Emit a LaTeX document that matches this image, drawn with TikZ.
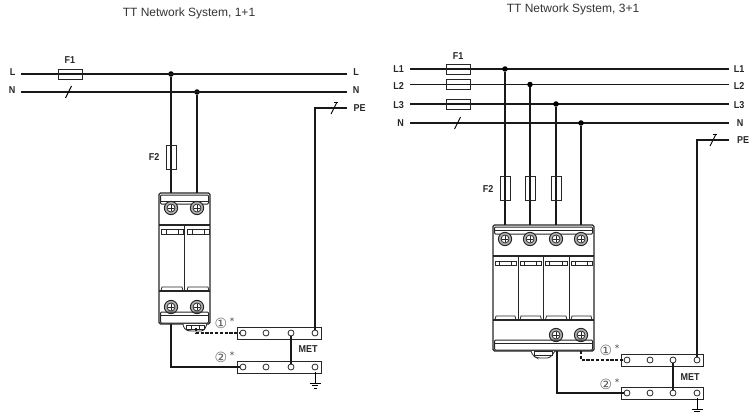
\documentclass[tikz,border=0pt]{standalone}
\usepackage{fontspec}
\setmainfont{Liberation Sans}
\newfontfamily\symf{DejaVu Sans}
\newfontfamily\lblf[FakeStretch=0.9]{Liberation Sans}
\tikzset{x=1pt,y=-1pt,
 wire/.style={line width=1.6pt,draw=black!90},
 thin box/.style={draw=black!85,line width=0.9pt},
 lbl/.style={font=\lblf\bfseries\fontsize{10}{10}\selectfont,inner sep=0pt,text=black!85},
 star/.style={font=\symf\fontsize{9}{9}\selectfont,inner sep=0pt,text=black!75},
 ttl/.style={font=\fontsize{12}{13}\selectfont,inner sep=0pt,text=black!80},
 fuse/.style={draw=black!85,line width=0.9pt,fill=none,inner sep=0pt},
 dot/.style={circle,fill=black,inner sep=0pt,minimum size=5.5pt},
 hole/.style={circle,draw=black!85,fill=white,line width=0.8pt,inner sep=0pt,minimum size=6pt},
 circ/.style={font=\symf\fontsize{14}{14}\selectfont,inner sep=0pt,text=black!65},
 devline/.style={draw=black!85,line width=0.8pt}
}
\newcommand{\screw}[2]{%
 \draw[devline,line width=1pt,fill=black!30] (#1,#2) circle (6.6);
 \draw[devline,fill=white] (#1,#2) circle (4);
 \draw[devline,line width=1pt] (#1-3.4,#2) -- (#1+3.4,#2) (#1,#2-3.4) -- (#1,#2+3.4);}
\newcommand{\fuseh}[3]{\draw[fuse] (#1-12,#2-#3) rectangle (#1+12,#2+#3);}
\newcommand{\slashmark}[2]{\draw[line width=0.9pt] (#1-3,#2+6) -- (#1+3,#2-6);}
\newcommand{\earth}[2]{%
 \draw[line width=0.8pt] (#1,#2) -- (#1,#2+11);
 \draw[line width=0.8pt] (#1-5.5,#2+11) -- (#1+5.5,#2+11) (#1-3.4,#2+13.5) -- (#1+3.4,#2+13.5) (#1-1.5,#2+16) -- (#1+1.5,#2+16);}
\begin{document}
\begin{tikzpicture}
\useasboundingbox (0,0) rectangle (751,414);
% ---------- LEFT
\node[ttl] (t1) at (189,13) {TT Network System, 1+1};
\node[lbl] (lL) at (12.5,72.5) {L};
\node[lbl] (lN) at (12,90.5) {N};
\node[lbl] (rL) at (356,72.5) {L};
\node[lbl] (rN) at (356,90.5) {N};
\node[lbl] (rPE) at (359.5,108) {PE};
\node[lbl] (f1) at (70,60) {F1};
\node[lbl] (f2) at (154,157) {F2};
\coordinate (La) at (21,74); \coordinate (Lb) at (347,74);
\coordinate (Na) at (21,92); \coordinate (Nb) at (347,92);
\coordinate (PEa) at (347,108);
\node[dot] (j1) at (171,74) {};
\node[dot] (j2) at (197,92) {};
\draw[wire] (La) -- (Lb);
\draw[wire] (Na) -- (Nb);
\fuseh{70}{74}{5}
\slashmark{68.5}{92}
\slashmark{334}{108}
\draw[line width=0.9pt] (334,102) -- (338,102);
% device
\draw[devline,line width=1.1pt,rounded corners=1.5pt,fill=white] (159,193) rectangle (210,324);
\coordinate (d1a) at (171,193); \coordinate (d1b) at (197,193);
\draw[wire] (j1) -- (d1a);
\draw[wire] (j2) -- (d1b);
\node[fuse,minimum width=10pt,minimum height=24pt] (F2a) at (171,157) {};
\draw[devline,rounded corners=1pt,line width=1pt] (160.5,195) rectangle (208.5,204);
\draw[devline,line width=1pt] (160.5,201.5) -- (208.5,201.5);
\screw{171}{208}\screw{197}{208}
\draw[devline,line width=1.1pt] (159,225) -- (210,225) (159,291) -- (210,291);
\draw[devline] (184.7,225) -- (184.7,291);
\foreach \a/\b in {161/183,187/209}{
 \draw[devline] (\a,229.5) rectangle (\b,234);
 \draw[devline] (\a+5,229.5) -- (\a+5,234) (\b-5,229.5) -- (\b-5,234);
 \draw[devline] (\a,291) -- (\a+1,287) -- (\b-1,287) -- (\b,291);
}
\screw{171}{307}\screw{197}{307}
\draw[devline,rounded corners=1pt,line width=1pt] (160.5,312) rectangle (208.5,323);
\draw[devline,line width=1pt] (160.5,315) -- (208.5,315);
\draw[devline,rounded corners=3pt,fill=white] (183,324) -- (184,329) -- (189,331) -- (204,331) -- (207,324);
\draw[devline] (186,325) rectangle (204,329);
\draw[devline] (191,325) -- (191,329) (199,325) -- (199,329);
% MET left
\node[thin box,minimum width=84pt,minimum height=12pt,inner sep=0pt] (b1) at (279,333) {};
\node[thin box,minimum width=84pt,minimum height=12pt,inner sep=0pt] (b2) at (279,367) {};
\foreach \n/\x in {a/243,b/266,c/291,d/315}{
 \node[hole] (u\n) at (\x,333) {};
 \node[hole] (v\n) at (\x,367) {};
}
\draw[wire] (PEa) -| (ud);
\draw[wire] (uc) -- (vc);
\coordinate (dash1) at (196,328);
\coordinate (dash2) at (171,324);
\draw[wire,dash pattern=on 3.2pt off 1.6pt] (dash1) |- (ua);
\draw[wire] (dash2) |- (va);
\node[circ] (c1) at (221,323) {①};
\node[star] (s1) at (232,321.5) {*};
\node[circ] (c2) at (221,357) {②};
\node[star] (s2) at (232,355.5) {*};
\node[lbl] (met1) at (308,349.5) {MET};
\earth{315}{372}
% ---------- RIGHT
\node[ttl] (t2) at (573,9.5) {TT Network System, 3+1};
\foreach \t/\y in {L1/69,L2/86.5,L3/105}{\node[lbl] at (398.5,\y) {\t};}
\node[lbl] (lN2) at (400.5,123) {N};
\foreach \t/\y in {L1/69,L2/86.5,L3/105}{\node[lbl] at (739,\y) {\t};}
\node[lbl] (rN2) at (740,123) {N};
\node[lbl] (rPE2) at (743,140) {PE};
\node[lbl] (f12) at (458,56) {F1};
\node[lbl] (f22) at (488,189) {F2};
\foreach \y in {69,84.5,104,123}{\draw[wire] (410,\y) -- (729,\y);}
\fuseh{458}{69}{5}\fuseh{458}{84.5}{5}\fuseh{458}{104}{5}
\slashmark{457.5}{123}
\slashmark{713}{140}
\draw[line width=0.9pt] (713,134) -- (717,134);
\draw[devline,line width=1.1pt,rounded corners=1.5pt,fill=white] (493,225) rectangle (594,351);
\foreach \n/\x/\y in {a/505/69,b/530/84.5,c/556/104,d/581/123}{
 \node[dot] (k\n) at (\x,\y) {};
 \coordinate (e\n) at (\x,225);
 \draw[wire] (k\n) -- (e\n);
}
\foreach \n/\x in {a/505,b/530,c/556}{
 \node[fuse,minimum width=10pt,minimum height=24pt] (G\n) at (\x,188.5) {};
}
\draw[devline,rounded corners=1pt,line width=1pt] (494.5,227) rectangle (592.5,234);
\draw[devline] (494.5,230) -- (592.5,230);
\screw{505}{239}\screw{530}{239}\screw{556}{239}\screw{581}{239}
\draw[devline,line width=1.1pt] (493,256) -- (594,256) (493,320) -- (594,320);
\draw[devline] (518,256) -- (518,320) (543.5,256) -- (543.5,320) (569,256) -- (569,320);
\foreach \a/\b in {495/516,520/541.5,545.5/567,571/592}{
 \draw[devline] (\a,261) rectangle (\b,265.5);
 \draw[devline] (\a+4,261) -- (\a+4,265.5) (\b-5,261) -- (\b-5,265.5);
 \draw[devline] (\a,320) -- (\a+1,316) -- (\b-1,316) -- (\b,320);
}
\screw{556}{335}\screw{581}{335}
\draw[devline,rounded corners=1pt,line width=1pt] (494.5,340) rectangle (592.5,350);
\draw[devline,line width=1pt] (494.5,343) -- (592.5,343);
\draw[devline,rounded corners=3pt,fill=white] (531,351) -- (533,356) -- (537,358) -- (550,358) -- (555,351);
\draw[devline] (534,351.5) rectangle (552,355);
\node[thin box,minimum width=82pt,minimum height=11.5pt,inner sep=0pt] (b3) at (662,360.5) {};
\node[thin box,minimum width=82pt,minimum height=11.5pt,inner sep=0pt] (b4) at (662,393.5) {};
\foreach \n/\x in {a/627,b/650,c/673,d/697}{
 \node[hole] (p\n) at (\x,360) {};
 \node[hole] (q\n) at (\x,393) {};
}
\coordinate (PEc) at (729,140);
\draw[wire] (PEc) -| (pd);
\draw[wire] (pc) -- (qc);
\coordinate (dash3) at (581,351);
\coordinate (dash4) at (557,351);
\draw[wire,dash pattern=on 3.2pt off 1.6pt] (dash3) |- (pa);
\draw[wire] (dash4) |- (qa);
\node[circ] (c3) at (606,350) {①};
\node[star] (s3) at (617,348.5) {*};
\node[circ] (c4) at (606,384) {②};
\node[star] (s4) at (617,382.5) {*};
\node[lbl] (met2) at (690,377) {MET};
\earth{697}{398}
\end{tikzpicture}
\end{document}
